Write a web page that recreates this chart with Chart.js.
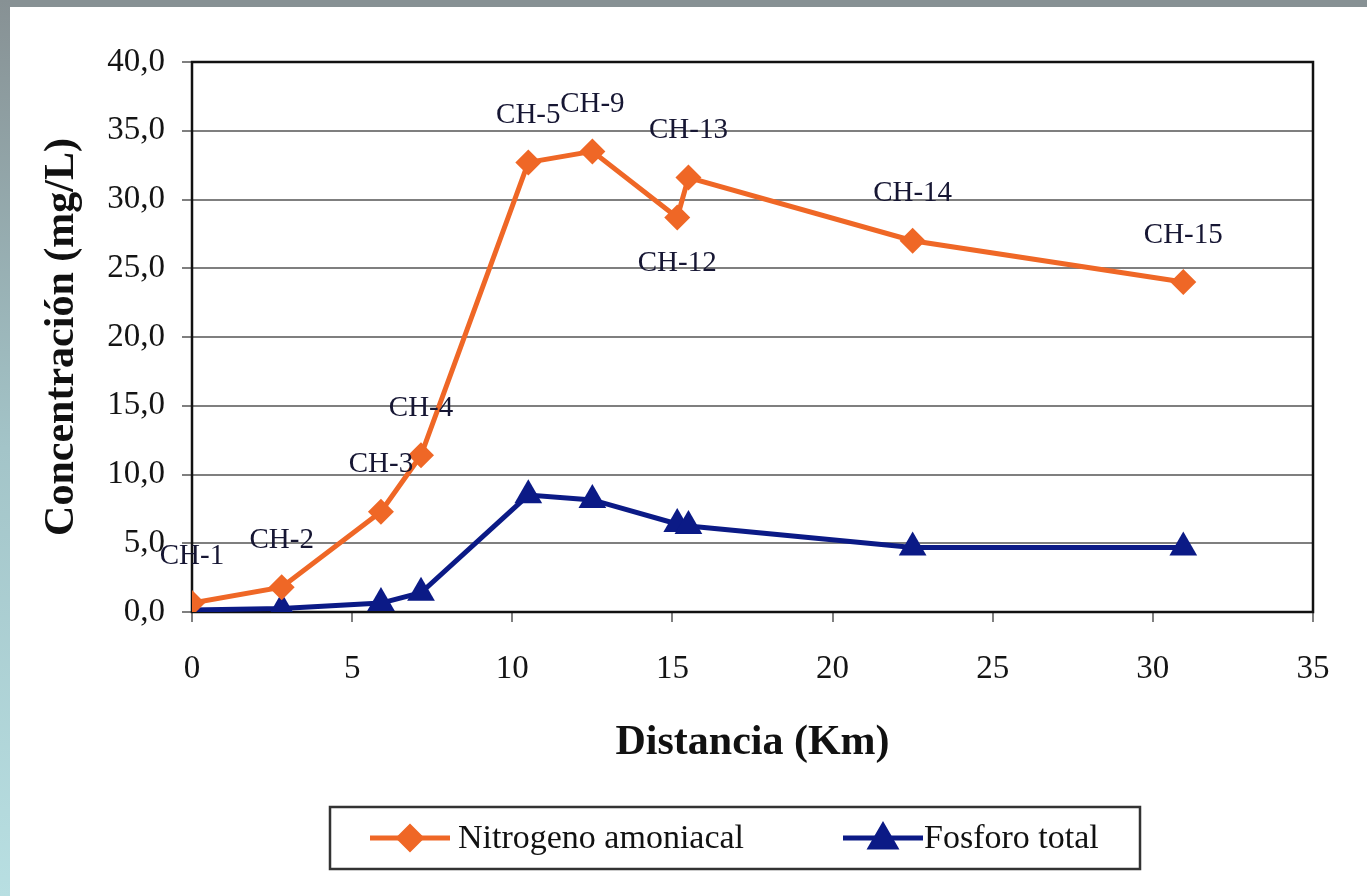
<!DOCTYPE html>
<html>
<head>
<meta charset="utf-8">
<script src="https://cdn.jsdelivr.net/npm/chart.js@4/dist/chart.umd.min.js"></script>
<style>
  html, body { margin: 0; padding: 0; width: 1367px; height: 896px; overflow: hidden; }
  body { position: relative; background: #ffffff; }
  #top-band { position: absolute; left: 0; top: 0; width: 1367px; height: 7px; background: #879194; }
  #left-band { position: absolute; left: 0; top: 0; width: 10px; height: 896px; background: linear-gradient(to bottom, #879194, #a3c4c8 50%, #b8dfe2); }
  #chart { position: absolute; left: 0; top: 0; }
</style>
</head>
<body>
<div id="top-band"></div>
<div id="left-band"></div>
<canvas id="chart" width="1367" height="896"></canvas>
<script>
const distances = [0, 2.8, 5.9, 7.15, 10.5, 12.5, 15.15, 15.5, 22.5, 30.95];
const stationLabels = ["CH-1", "CH-2", "CH-3", "CH-4", "CH-5", "CH-9", "CH-12", "CH-13", "CH-14", "CH-15"];
const nitrogenValues = [0.65, 1.8, 7.3, 11.4, 32.7, 33.5, 28.7, 31.6, 27.0, 24.0];
const phosphorusValues = [0.15, 0.25, 0.65, 1.4, 8.5, 8.15, 6.4, 6.25, 4.7, 4.7];
const seriesNames = ["Nitrogeno amoniacal", "Fosforo total"];

const ORANGE = "#ef6726";
const NAVY = "#0b1a86";
const SERIF = "'Liberation Serif', 'Times New Roman', serif";

// label placement: everything above its point, CH-12 sits below
const labelsBelow = new Set(["CH-12"]);

function toPoints(values) {
  return values.map((value, index) => ({ x: distances[index], y: value }));
}

const frameBox = {
  id: "frameBox",
  beforeDatasetsDraw(chart) {
    const { ctx, chartArea } = chart;
    ctx.save();
    ctx.strokeStyle = "#111111";
    ctx.lineWidth = 2.5;
    ctx.strokeRect(chartArea.left, chartArea.top, chartArea.right - chartArea.left, chartArea.bottom - chartArea.top);
    ctx.restore();
  },
};

const stationTags = {
  id: "stationTags",
  afterDatasetsDraw(chart) {
    const { ctx } = chart;
    const meta = chart.getDatasetMeta(0);
    ctx.save();
    ctx.font = `29px ${SERIF}`;
    ctx.fillStyle = "#161633";
    ctx.textAlign = "center";
    ctx.textBaseline = "middle";
    meta.data.forEach((point, index) => {
      const name = stationLabels[index];
      const offset = labelsBelow.has(name) ? 46 : -47;
      ctx.fillText(name, point.x, point.y + offset);
    });
    ctx.restore();
  },
};

const boxedLegend = {
  id: "boxedLegend",
  afterDraw(chart) {
    const { ctx } = chart;
    const box = { left: 330, top: 807, width: 810, height: 62 };
    const midY = box.top + box.height / 2;
    const items = [
      { lineStart: 370, text: 458 },
      { lineStart: 843, text: 924 },
    ];

    ctx.save();
    ctx.strokeStyle = "#333333";
    ctx.lineWidth = 2.5;
    ctx.strokeRect(box.left, box.top, box.width, box.height);

    chart.data.datasets.forEach((dataset, index) => {
      const item = items[index];
      ctx.strokeStyle = dataset.borderColor;
      ctx.lineWidth = 5;
      ctx.beginPath();
      ctx.moveTo(item.lineStart, midY);
      ctx.lineTo(item.lineStart + 80, midY);
      ctx.stroke();

      Chart.helpers.drawPoint(ctx, {
        pointStyle: dataset.pointStyle,
        radius: dataset.pointStyle === "triangle" ? 14 : 11,
        borderWidth: 1,
        rotation: 0,
      }, item.lineStart + 40, midY + (dataset.pointStyle === "triangle" ? 2 : 0));
      ctx.fillStyle = dataset.backgroundColor;
      ctx.fill();

      ctx.fillStyle = "#111111";
      ctx.font = `34px ${SERIF}`;
      ctx.textAlign = "left";
      ctx.textBaseline = "middle";
      ctx.fillText(dataset.label, item.text, midY + 1);
    });
    ctx.restore();
  },
};

new Chart(document.getElementById("chart"), {
  type: "scatter",
  data: {
    datasets: [
      {
        label: seriesNames[0],
        data: toPoints(nitrogenValues),
        showLine: true,
        borderColor: ORANGE,
        backgroundColor: ORANGE,
        borderWidth: 5,
        pointStyle: "rectRot",
        pointRadius: 13,
        pointBorderWidth: 0,
      },
      {
        label: seriesNames[1],
        data: toPoints(phosphorusValues),
        showLine: true,
        borderColor: NAVY,
        backgroundColor: NAVY,
        borderWidth: 5,
        pointStyle: "triangle",
        pointRadius: 16,
        pointBorderWidth: 0,
      },
    ],
  },
  options: {
    responsive: false,
    animation: false,
    devicePixelRatio: 1,
    layout: {
      padding: { left: 0, top: 62, right: 54, bottom: 124 },
    },
    plugins: {
      legend: { display: false },
      tooltip: { enabled: false },
    },
    scales: {
      x: {
        type: "linear",
        min: 0,
        max: 35,
        afterFit(scale) {
          scale.height = 160;
        },
        ticks: {
          stepSize: 5,
          padding: 28,
          color: "#141414",
          font: { family: SERIF, size: 33 },
        },
        grid: {
          drawOnChartArea: false,
          drawTicks: true,
          tickLength: 10,
          color: "#7f7f7f",
          lineWidth: 2,
        },
        border: { display: false },
        title: {
          display: true,
          text: "Distancia (Km)",
          color: "#111111",
          padding: { top: 0, bottom: 4 },
          font: { family: SERIF, size: 42, weight: "bold" },
        },
      },
      y: {
        min: 0,
        max: 40,
        afterFit(scale) {
          scale.width = 192;
        },
        ticks: {
          stepSize: 5,
          padding: 17,
          color: "#141414",
          font: { family: SERIF, size: 33 },
          callback: (value) => value.toFixed(1).replace(".", ","),
        },
        grid: {
          color: "#7f7f7f",
          lineWidth: 2,
          tickLength: 10,
        },
        border: { display: false },
        title: {
          display: true,
          text: "Concentración (mg/L)",
          color: "#111111",
          padding: { top: 37, bottom: 0 },
          font: { family: SERIF, size: 42, weight: "bold" },
        },
      },
    },
  },
  plugins: [frameBox, stationTags, boxedLegend],
});
</script>
</body>
</html>
